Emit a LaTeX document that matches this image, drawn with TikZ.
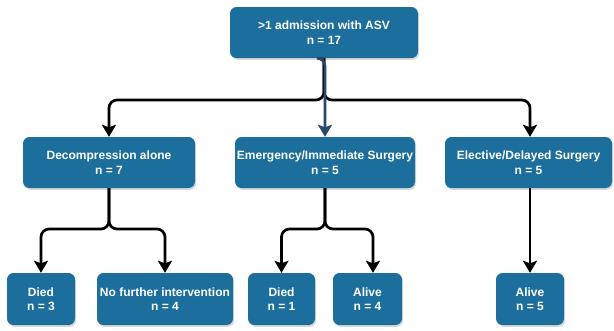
\documentclass[tikz,border=0pt]{standalone}
\usepackage{fontspec}
\setmainfont{Liberation Sans}
\usetikzlibrary{arrows.meta,shadows}
\definecolor{boxblue}{RGB}{28,111,156}
\definecolor{linkblue}{RGB}{38,72,108}
\tikzset{
  fbox/.style={draw=none, fill=boxblue, rounded corners=6.5pt, text=white,
    font=\fontsize{12}{14.5}\selectfont\bfseries, align=center,
    minimum height=51pt, inner sep=0pt,
    drop shadow={shadow xshift=1.2pt, shadow yshift=-1.8pt, opacity=0.3}},
  conn/.style={line width=2.7pt, black, rounded corners=8pt,
    -{Stealth[length=12pt,width=14pt,inset=2.5pt]}},
}
\begin{document}
\begin{tikzpicture}[x=1pt,y=-1pt]
\useasboundingbox (0,0) rectangle (614,330);
% boxes
\node[fbox, minimum width=188pt] (top) at (324,32.5) {>1 admission with ASV\\n = 17};
\node[fbox, minimum width=172pt] (dec) at (109,162.5) {Decompression alone\\n = 7};
\node[fbox, minimum width=180pt] (emg) at (325,162.5) {Emergency/Immediate Surgery\\n = 5};
\node[fbox, minimum width=167pt] (ele) at (528.5,162.5) {Elective/Delayed Surgery\\n = 5};
\node[fbox, minimum width=68pt, minimum height=52pt] (d3) at (41,299) {Died\\n = 3};
\node[fbox, minimum width=136pt, minimum height=52pt] (nf) at (165,299) {No further intervention\\n = 4};
\node[fbox, minimum width=67pt, minimum height=52pt] (d1) at (281.5,299) {Died\\n = 1};
\node[fbox, minimum width=69pt, minimum height=52pt] (a4) at (367.5,299) {Alive\\n = 4};
\node[fbox, minimum width=68pt, minimum height=52pt] (a5) at (530,299) {Alive\\n = 5};
% bus levels
\coordinate (bus1) at (0,100);
\coordinate (bus2) at (0,229);
% connectors
\draw[conn] (top.south) -- (top.south |- bus1) -| (dec.north);
\draw[conn] (top.south) -- (top.south |- bus1) -| ([xshift=1.5pt]ele.north);
\draw[conn] (dec.south) -- (dec.south |- bus2) -| (d3.north);
\draw[conn] (dec.south) -- (dec.south |- bus2) -| (nf.north);
\draw[conn] (emg.south) -- (emg.south |- bus2) -| (d1.north);
\draw[conn] (emg.south) -- (emg.south |- bus2) -| ([xshift=5.5pt]a4.north);
\draw[conn] (ele.south -| a5.north) -- (a5.north);
\draw[conn, linkblue] (top.south) -- (top.south -| emg.north) -- (emg.north);
\end{tikzpicture}
\end{document}
